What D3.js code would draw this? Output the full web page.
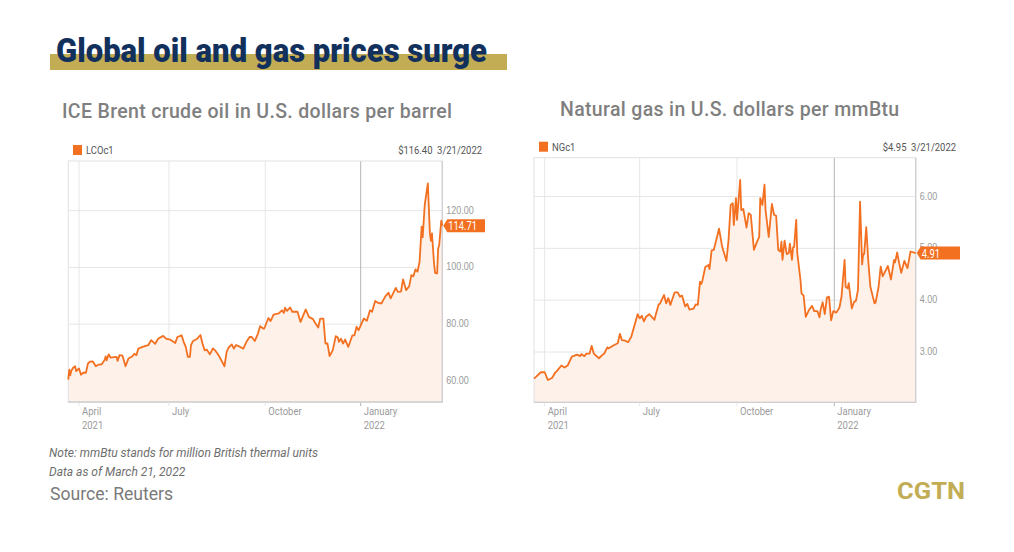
<!DOCTYPE html>
<html>
<head>
<meta charset="utf-8">
<style>
  html, body { margin: 0; padding: 0; background: #fff; }
  svg { display: block; font-family: Roboto, sans-serif; }
</style>
<script src="https://cdnjs.cloudflare.com/ajax/libs/d3/7.8.5/d3.min.js"></script>
</head>
<body>
<svg id="chart" width="1014" height="552"></svg>
<script>
'use strict'

// days since 3/21/2021
const oilDays = [0, 1, 2, 3, 5, 7, 8, 9, 11, 13, 15, 18, 20, 22, 25, 28, 31, 34, 37, 38, 39, 41, 43, 49, 50, 52, 55, 58, 61, 65, 67, 69, 71, 76, 81, 84, 88, 91, 96, 99, 103, 108, 110, 114, 116, 118, 120, 122, 123, 125, 129, 132, 134, 136, 138, 141, 144, 146, 150, 155, 157, 159, 162, 164, 166, 170, 173, 176, 179, 181, 184, 187, 189, 192, 193, 197, 199, 202, 207, 210, 212, 213, 215, 218, 220, 225, 228, 233, 236, 240, 242, 245, 247, 250, 252, 254, 256, 259, 262, 264, 265, 267, 269, 271, 274, 278, 280, 282, 284, 289, 292, 295, 297, 300, 303, 306, 310, 313, 315, 320, 322, 325, 327, 330, 333, 335, 337, 339, 341, 343, 345, 346, 348, 351, 353, 354, 355, 357, 358, 360, 361, 362, 364, 365]
const oilPrices = [60.5, 64.0, 62.0, 63.5, 64.7, 65.2, 63.5, 63.8, 64.4, 62.2, 62.9, 62.9, 66.1, 66.8, 66.9, 65.2, 65.8, 65.9, 67.5, 68.7, 67.3, 69.4, 68.2, 68.5, 67.1, 69.1, 68.9, 65.2, 67.9, 68.7, 69.6, 69.1, 71.4, 72.1, 72.6, 74.4, 73.1, 74.9, 75.9, 74.9, 74.6, 73.4, 75.5, 76.1, 73.8, 72.0, 68.5, 68.5, 72.6, 74.1, 74.9, 76.2, 73.2, 70.8, 71.1, 69.4, 71.5, 70.8, 68.7, 65.2, 70.2, 71.8, 72.9, 71.4, 72.7, 72.0, 71.4, 73.8, 75.5, 75.5, 74.1, 76.7, 79.3, 78.5, 78.5, 82.2, 81.1, 83.4, 83.8, 84.9, 84.0, 85.8, 84.7, 85.9, 84.4, 84.4, 80.8, 85.2, 82.6, 81.8, 80.5, 78.8, 82.0, 82.0, 73.2, 73.2, 68.8, 70.8, 75.8, 75.3, 73.8, 74.9, 73.2, 74.6, 72.0, 76.1, 76.1, 79.1, 77.9, 82.0, 81.2, 84.9, 84.4, 88.2, 87.5, 87.3, 89.9, 91.1, 89.1, 92.8, 91.4, 91.5, 95.8, 92.0, 93.4, 97.3, 96.9, 99.3, 98.5, 102.0, 114.4, 110.6, 122.0, 129.6, 112.0, 109.4, 112.0, 101.4, 98.1, 97.9, 106.7, 107.9, 116.5, 114.71]

const gasDays = [0, 2, 7, 11, 14, 18, 21, 23, 27, 30, 33, 37, 42, 45, 46, 49, 51, 54, 56, 58, 63, 66, 68, 71, 72, 78, 81, 83, 85, 88, 91, 94, 100, 102, 104, 106, 108, 111, 116, 117, 120, 121, 125, 127, 129, 131, 135, 138, 140, 142, 145, 147, 149, 153, 155, 157, 159, 160, 161, 164, 167, 168, 170, 172, 175, 177, 180, 184, 186, 188, 190, 191, 193, 194, 197, 198, 200, 203, 205, 207, 210, 213, 215, 216, 218, 220, 221, 224, 227, 229, 231, 233, 235, 236, 237, 239, 241, 243, 244, 246, 247, 248, 250, 251, 254, 255, 257, 259, 262, 265, 267, 270, 272, 273, 275, 277, 279, 281, 283, 285, 288, 291, 293, 296, 297, 299, 300, 303, 305, 307, 309, 311, 313, 314, 315, 317, 319, 321, 325, 326, 329, 331, 333, 338, 341, 344, 345, 347, 349, 351, 354, 357, 360, 365]
const gasPrices = [2.49, 2.52, 2.61, 2.61, 2.46, 2.50, 2.60, 2.64, 2.74, 2.70, 2.74, 2.91, 2.95, 2.92, 2.96, 2.92, 2.97, 2.97, 3.12, 2.97, 2.88, 2.94, 2.97, 3.09, 3.07, 3.14, 3.17, 3.35, 3.23, 3.22, 3.19, 3.30, 3.73, 3.65, 3.70, 3.59, 3.68, 3.73, 3.62, 3.71, 3.92, 3.93, 4.10, 3.94, 4.04, 3.91, 4.15, 4.15, 4.07, 4.09, 3.88, 3.93, 3.82, 3.84, 3.92, 3.91, 4.36, 4.31, 4.35, 4.64, 4.68, 4.60, 4.96, 4.97, 5.21, 5.38, 5.03, 4.76, 5.16, 5.84, 5.87, 5.45, 5.97, 5.55, 6.32, 5.74, 5.76, 5.40, 5.68, 5.65, 4.97, 5.13, 5.22, 5.97, 5.84, 6.23, 5.74, 5.22, 5.86, 5.65, 5.63, 4.97, 4.94, 5.13, 4.78, 5.15, 4.89, 4.91, 5.09, 4.78, 5.02, 5.03, 5.55, 4.91, 4.39, 4.13, 4.09, 3.68, 3.81, 3.89, 3.79, 3.79, 3.67, 3.81, 3.96, 3.73, 4.05, 4.07, 3.61, 3.79, 3.76, 3.86, 4.07, 4.78, 4.26, 4.23, 4.33, 3.84, 3.96, 3.99, 4.20, 5.90, 4.69, 4.89, 4.89, 5.41, 4.75, 4.26, 3.94, 3.95, 4.26, 4.65, 4.46, 4.66, 4.40, 4.78, 4.73, 4.92, 4.71, 4.53, 4.76, 4.62, 4.94, 4.91]

const monthDays = [11, 102, 194, 286]
const monthLabels = ['April', 'July', 'October', 'January']
const yearLabels = ['2021', '', '', '2022']
const oilTicks = [60, 80, 100, 120]
const gasTicks = [3, 4, 5, 6]

const orange = '#f37021'
const svg = d3.select('#chart')

// the chart widget uses a condensed face, none is installed
function squeeze (selection, factor = 0.82) {
  selection.each(function () {
    const w = this.getComputedTextLength()
    if (w > 0) {
      d3.select(this)
        .attr('textLength', w * factor)
        .attr('lengthAdjust', 'spacingAndGlyphs')
    }
  })
}

function drawChart (o) {
  const g = svg.append('g')
  const yBottom = o.top + o.height
  const xRight = o.xStops[o.xStops.length - 1]

  // the source axis is not quite even between months, so it is piecewise
  const x = d3.scaleLinear().domain([0, ...monthDays, 365]).range(o.xStops)
  const y = d3.scaleLinear().domain(o.yDomain).range([yBottom, o.top])

  // frame + grid
  g.append('g').selectAll('line')
    .data(o.ticks)
    .join('line')
    .attr('x1', o.xStops[0]).attr('x2', xRight)
    .attr('y1', (d) => y(d)).attr('y2', (d) => y(d))
    .attr('stroke', '#e6e6e6').attr('stroke-width', 1)

  g.append('g').selectAll('line')
    .data(monthDays)
    .join('line')
    .attr('x1', (d) => x(d)).attr('x2', (d) => x(d))
    .attr('y1', o.top).attr('y2', yBottom + 4)
    .attr('stroke', (d, i) => (i === 3 ? '#b4b4b4' : '#e6e6e6'))
    .attr('stroke-width', 1)

  const points = d3.zip(o.days, o.values)

  const area = d3.area()
    .x((d) => x(d[0]))
    .y0(yBottom)
    .y1((d) => y(d[1]))
  const line = d3.line()
    .x((d) => x(d[0]))
    .y((d) => y(d[1]))

  g.append('path').attr('d', area(points)).attr('fill', '#fdf1e9')

  g.append('rect')
    .attr('x', o.xStops[0]).attr('y', o.top)
    .attr('width', xRight - o.xStops[0]).attr('height', o.height)
    .attr('fill', 'none').attr('stroke', '#e2e2e2').attr('stroke-width', 1)
  g.append('path')
    .attr('d', `M${xRight},${o.top}V${yBottom}H${o.xStops[0]}`)
    .attr('fill', 'none').attr('stroke', '#cfcfcf').attr('stroke-width', 1.3)

  g.append('path')
    .attr('d', line(points))
    .attr('fill', 'none').attr('stroke', orange)
    .attr('stroke-width', 1.8).attr('stroke-linejoin', 'round')

  // y axis labels
  const yAxis = d3.axisRight(y)
    .tickValues(o.ticks)
    .tickSize(0)
    .tickPadding(0)
    .tickFormat(d3.format('.2f'))
  g.append('g')
    .attr('transform', `translate(${xRight + 4}, 0)`)
    .call(yAxis)
    .call((s) => s.select('.domain').remove())
    .call((s) => s.selectAll('text')
      .attr('fill', '#9a9a9a')
      .attr('font-size', 11.5)
      .attr('dy', '.22em')
      .call(squeeze, 0.78))

  // x axis labels, month on one line and year below
  const labels = g.append('g')
    .selectAll('text')
    .data(monthDays)
    .join('text')
    .attr('x', (d) => x(d) + 3)
    .attr('y', yBottom + 13)
    .attr('fill', '#9a9a9a')
    .attr('font-size', 11.5)
  labels.append('tspan').text((d, i) => monthLabels[i]).call(squeeze)
  labels.append('tspan')
    .attr('x', (d) => x(d) + 3)
    .attr('dy', 14)
    .text((d, i) => yearLabels[i])
    .call(squeeze)

  // legend
  g.append('rect')
    .attr('x', o.legendX).attr('y', o.top - 16)
    .attr('width', 9).attr('height', 10)
    .attr('fill', orange)
  g.append('text')
    .attr('x', o.legendX + 13).attr('y', o.top - 7)
    .attr('fill', '#555').attr('font-size', 11.5)
    .text(o.symbol)
    .call(squeeze)
  g.append('text')
    .attr('x', o.headX).attr('y', o.top - 7)
    .attr('text-anchor', 'end')
    .attr('fill', '#555').attr('font-size', 11.5)
    .attr('xml:space', 'preserve')
    .text(`${o.lastPrice}  3/21/2022`)
    .call(squeeze)

  // last value tag
  const last = o.values[o.values.length - 1]
  const tagY = y(last)
  g.append('path')
    .attr('d', `M${xRight + 1},${tagY}l4,-6.5H${o.tagRight}v13H${xRight + 5}z`)
    .attr('fill', orange)
  g.append('text')
    .attr('x', xRight + 6).attr('y', tagY + 4.5)
    .attr('fill', '#fff').attr('font-size', 12)
    .text(last.toFixed(2))
    .call(squeeze, 0.78)

  g.append('text')
    .attr('x', o.titleX).attr('y', o.titleY)
    .attr('fill', '#7f7f7f')
    .attr('font-size', 19.5)
    .attr('font-weight', 500)
    .attr('letter-spacing', 0.34)
    .text(o.title)
}

drawChart({
  days: oilDays,
  values: oilPrices,
  ticks: oilTicks,
  yDomain: [52.6, 137.5],
  xStops: [68.3, 79, 169, 265.3, 360.7, 442.3],
  top: 161,
  height: 241,
  legendX: 73,
  headX: 482,
  symbol: 'LCOc1',
  lastPrice: '$116.40',
  tagRight: 485,
  title: 'ICE Brent crude oil in U.S. dollars per barrel',
  titleX: 62,
  titleY: 118
})

drawChart({
  days: gasDays,
  values: gasPrices,
  ticks: gasTicks,
  yDomain: [2.03, 6.75],
  xStops: [534, 544.7, 639.7, 737, 834.3, 915.7],
  top: 157.7,
  height: 244.6,
  legendX: 539,
  headX: 956,
  symbol: 'NGc1',
  lastPrice: '$4.95',
  tagRight: 960,
  title: 'Natural gas in U.S. dollars per mmBtu',
  titleX: 560,
  titleY: 116
})

// heading
svg.append('rect')
  .attr('x', 50).attr('y', 54)
  .attr('width', 457).attr('height', 16)
  .attr('fill', '#c2ad55')
svg.append('text')
  .attr('x', 56).attr('y', 62)
  .attr('fill', '#12305c')
  .attr('font-size', 33)
  .attr('font-weight', 900)
  .attr('textLength', 431)
  .attr('lengthAdjust', 'spacingAndGlyphs')
  .text('Global oil and gas prices surge')

// footer
const notes = ['Note: mmBtu stands for million British thermal units', 'Data as of March 21, 2022']
svg.append('g').selectAll('text')
  .data(notes)
  .join('text')
  .attr('x', 49)
  .attr('y', (d, i) => 457 + i * 19)
  .attr('fill', '#6e6e6e')
  .attr('font-size', 12)
  .attr('font-style', 'italic')
  .text((d) => d)

svg.append('text')
  .attr('x', 50).attr('y', 500)
  .attr('fill', '#7a7a7a')
  .attr('font-size', 17.6)
  .text('Source: Reuters')

svg.append('text')
  .attr('x', 897).attr('y', 499)
  .attr('fill', '#c2ad55')
  .attr('font-size', 23.5)
  .attr('font-weight', 700)
  .attr('textLength', 68)
  .attr('lengthAdjust', 'spacingAndGlyphs')
  .text('CGTN')
</script>
</body>
</html>
